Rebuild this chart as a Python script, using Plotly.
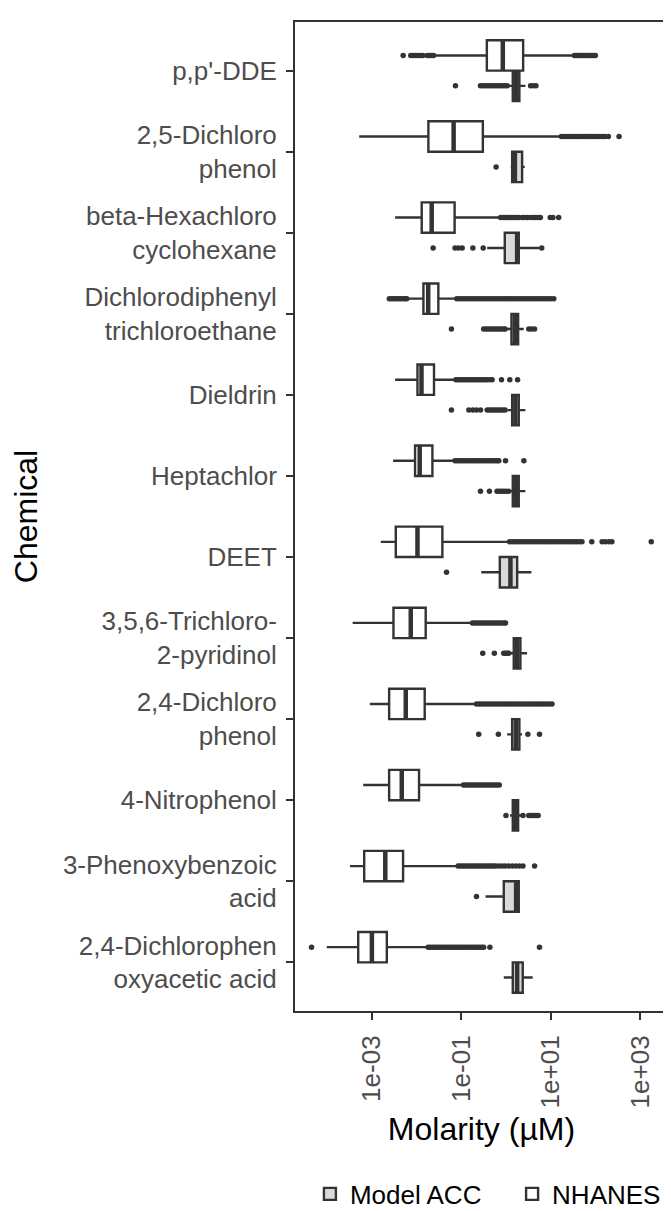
import numpy as np
import plotly.graph_objects as go

chemicals = ["p,p'-DDE", "2,5-Dichloro<br>phenol", "beta-Hexachloro<br>cyclohexane",
             "Dichlorodiphenyl<br>trichloroethane", "Dieldrin", "Heptachlor", "DEET",
             "3,5,6-Trichloro-<br>2-pyridinol", "2,4-Dichloro<br>phenol", "4-Nitrophenol",
             "3-Phenoxybenzoic<br>acid", "2,4-Dichlorophen<br>oxyacetic acid"]

# all values are log10(molarity in uM)
nh_lower = [-1.573, -3.283, -2.48, -2.204, -2.48, -2.525, -2.80, -3.43, -3.045, -3.194, -3.49, -4.01]
nh_q1 = [-0.428, -1.736, -1.885, -1.847, -1.98, -2.034, -2.465, -2.517, -2.614, -2.614, -3.172, -3.306]
nh_median = [-0.071, -1.171, -1.662, -1.74, -1.89, -1.93, -1.98, -2.13, -2.242, -2.331, -2.70, -3.0]
nh_q3 = [0.384, -0.517, -1.149, -1.513, -1.61, -1.646, -1.423, -1.796, -1.818, -1.945, -2.302, -2.666]
nh_upper = [1.50, 1.216, -0.145, -1.127, -1.142, -1.164, 0.062, -0.777, -0.68, -0.977, -1.089, -1.758]

acc_lower = [0.07, 0.107, -0.42, -0.01, 0.03, 0.09, -0.553, 0.09, 0.026, 0.09, -0.457, -0.049]
acc_q1 = [0.152, 0.138, -0.027, 0.123, 0.138, 0.152, -0.138, 0.174, 0.138, 0.152, -0.049, 0.152]
acc_median = [0.23, 0.20, 0.25, 0.20, 0.21, 0.22, 0.10, 0.25, 0.22, 0.21, 0.227, 0.25]
acc_q3 = [0.30, 0.361, 0.286, 0.272, 0.286, 0.286, 0.25, 0.323, 0.30, 0.272, 0.286, 0.375]
acc_upper = [0.435, 0.42, 0.74, 0.397, 0.435, 0.435, 0.569, 0.472, 0.36, 0.36, 0.30, 0.598]

nh_outliers = [
    [-2.30, -2.13, -2.08, -2.02, -1.97, -1.91, -1.86, -1.76, -1.71, -1.66, -1.62,
     1.53, 1.57, 1.61, 1.65, 1.69, 1.73, 1.77, 1.81, 1.85, 1.89, 1.93, 1.97, 2.00],
    [1.24, 1.30, 1.35, 1.41, 1.46, 1.52, 1.58, 1.63, 1.69, 1.75, 1.80, 1.86, 1.92, 1.97,
     2.03, 2.09, 2.15, 2.21, 2.29, 2.53],
    [-0.12, -0.07, -0.02, 0.03, 0.08, 0.13, 0.18, 0.23, 0.28, 0.36, 0.42, 0.48, 0.55, 0.60,
     0.66, 0.72, 0.77, 0.99, 1.05, 1.18],
    [-2.61, -2.56, -2.51, -2.46, -2.41, -2.36, -2.31, -2.26, -2.22,
     -1.10, -1.04, -0.98, -0.92, -0.86, -0.80, -0.74, -0.68, -0.62, -0.56, -0.50, -0.44,
     -0.38, -0.32, -0.26, -0.20, -0.14, -0.08, -0.02, 0.04, 0.10, 0.16, 0.22, 0.28, 0.34,
     0.40, 0.46, 0.52, 0.58, 0.64, 0.70, 0.76, 0.82, 0.88, 0.94, 1.00, 1.07],
    [-1.12, -1.07, -1.02, -0.97, -0.92, -0.87, -0.82, -0.77, -0.72, -0.67, -0.62, -0.57,
     -0.52, -0.47, -0.42, -0.36, -0.31, -0.10, 0.085, 0.26],
    [-1.14, -1.09, -1.04, -0.99, -0.94, -0.89, -0.84, -0.79, -0.74, -0.69, -0.64, -0.59,
     -0.54, -0.49, -0.44, -0.39, -0.34, -0.29, -0.24, -0.20, -0.16, -0.01, 0.40],
    [0.08, 0.14, 0.20, 0.26, 0.32, 0.38, 0.44, 0.50, 0.56, 0.62, 0.68, 0.74, 0.80, 0.86,
     0.92, 0.98, 1.04, 1.10, 1.16, 1.22, 1.28, 1.34, 1.40, 1.46, 1.52, 1.58, 1.64, 1.70,
     1.92, 2.15, 2.22, 2.30, 2.37, 3.25],
    [-0.75, -0.70, -0.65, -0.60, -0.55, -0.50, -0.45, -0.40, -0.35, -0.30, -0.25, -0.20,
     -0.15, -0.10, -0.05, -0.01],
    [-0.66, -0.60, -0.54, -0.48, -0.42, -0.36, -0.30, -0.24, -0.18, -0.12, -0.06, 0.00,
     0.06, 0.12, 0.18, 0.24, 0.30, 0.36, 0.42, 0.48, 0.54, 0.60, 0.66, 0.72, 0.78, 0.84,
     0.90, 0.96, 1.03],
    [-0.95, -0.90, -0.85, -0.80, -0.75, -0.70, -0.65, -0.60, -0.55, -0.50, -0.45, -0.40,
     -0.35, -0.30, -0.25, -0.20, -0.15],
    [-1.07, -1.02, -0.97, -0.92, -0.87, -0.82, -0.77, -0.72, -0.67, -0.62, -0.57, -0.52,
     -0.47, -0.42, -0.37, -0.32, -0.27, -0.23, -0.16, -0.09, -0.02, 0.06, 0.14, 0.22,
     0.30, 0.38, 0.64],
    [-4.35, -1.74, -1.69, -1.64, -1.59, -1.54, -1.49, -1.44, -1.39, -1.34, -1.29, -1.24,
     -1.19, -1.14, -1.09, -1.04, -0.99, -0.94, -0.89, -0.84, -0.79, -0.74, -0.69, -0.64,
     -0.59, -0.54, -0.50, -0.36, 0.75],
]

acc_outliers = [
    [-1.13, -0.57, -0.52, -0.47, -0.42, -0.37, -0.32, -0.27, -0.22, -0.17, -0.12, -0.07,
     -0.02, 0.03, 0.55, 0.61, 0.67],
    [-0.22],
    [-1.63, -1.14, -1.06, -0.98, -0.74, -0.51, 0.80],
    [-1.22, -0.50, -0.45, -0.40, -0.35, -0.30, -0.25, -0.20, -0.15, -0.10, -0.05, -0.02,
     0.51, 0.57, 0.64],
    [-1.22, -0.83, -0.74, -0.66, -0.57, -0.42, -0.37, -0.32, -0.27, -0.22, -0.17, -0.12,
     -0.07, -0.02],
    [-0.57, -0.37, -0.20, -0.15, -0.10, -0.05, 0.00, 0.06],
    [-1.33],
    [-0.52, -0.26, -0.05, -0.01, 0.03, 0.06],
    [-0.61, -0.17, 0.49, 0.75],
    [0.00, 0.38, 0.51, 0.56, 0.62, 0.67, 0.72],
    [-0.66],
    [],
]

tick_vals = [1e-3, 1e-1, 1e1, 1e3]
tick_text = ["1e-03", "1e-01", "1e+01", "1e+03"]

DARK = "#333333"
BOX_W = 0.375
FONT = "Liberation Sans, Arial, sans-serif"

idx = np.arange(len(chemicals))
pos_nh = idx - BOX_W / 2
pos_acc = idx + BOX_W / 2


def p10(a):
    return np.power(10.0, np.asarray(a, dtype=float))


fig = go.Figure()


def add_group(name, legend_id, pos, lo, q1, med, q3, hi, outl, fill):
    fig.add_trace(go.Box(
        name=name, legend=legend_id, orientation="h", y=pos,
        lowerfence=p10(lo), q1=p10(q1), median=p10(med), q3=p10(q3), upperfence=p10(hi),
        width=BOX_W, whiskerwidth=0, boxpoints=False,
        fillcolor=fill, line=dict(color=DARK, width=2.4),
        showlegend=True, hoverinfo="skip"))
    # thicker median lines
    mx, my = [], []
    for p, m in zip(pos, med):
        mx += [10 ** m, 10 ** m, None]
        my += [p - BOX_W / 2, p + BOX_W / 2, None]
    fig.add_trace(go.Scatter(x=mx, y=my, mode="lines", line=dict(color=DARK, width=4.5),
                             showlegend=False, hoverinfo="skip"))
    ox, oy = [], []
    for p, vals in zip(pos, outl):
        ox += list(p10(vals))
        oy += [p] * len(vals)
    fig.add_trace(go.Scatter(x=ox, y=oy, mode="markers",
                             marker=dict(color=DARK, size=5.5, line=dict(width=0)),
                             showlegend=False, hoverinfo="skip"))


add_group("Model ACC", "legend", pos_acc, acc_lower, acc_q1, acc_median, acc_q3, acc_upper,
          acc_outliers, "#D9D9D9")
add_group("NHANES", "legend2", pos_nh, nh_lower, nh_q1, nh_median, nh_q3, nh_upper,
          nh_outliers, "white")

legend_style = dict(orientation="h", yanchor="middle", y=-0.185, xanchor="left",
                    font=dict(size=26, color="black", family=FONT),
                    bgcolor="rgba(0,0,0,0)", itemwidth=30)

fig.update_layout(
    width=671, height=1211,
    margin=dict(l=287, r=11, t=14, b=208, autoexpand=False),
    paper_bgcolor="white", plot_bgcolor="white",
    boxmode="overlay",
    font=dict(family=FONT, color="black"),
    xaxis=dict(
        type="log", range=[-4.72, 3.625], automargin=False,
        tickvals=tick_vals, ticktext=tick_text, tickangle=-90,
        ticks="outside", ticklen=7, tickwidth=2, tickcolor=DARK, ticklabelstandoff=5,
        tickfont=dict(size=26, color="#4D4D4D", family=FONT),
        showline=True, mirror=True, linecolor=DARK, linewidth=2,
        showgrid=False, zeroline=False,
        title=dict(text="Molarity (µM)", font=dict(size=32, color="black", family=FONT),
                   standoff=10),
    ),
    yaxis=dict(
        range=[len(chemicals) - 0.4, -0.6], automargin=False,
        tickvals=idx, ticktext=chemicals,
        ticks="outside", ticklen=7, tickwidth=2, tickcolor=DARK, ticklabelstandoff=4,
        tickfont=dict(size=26, color="#4D4D4D", family=FONT),
        showline=True, mirror=True, linecolor=DARK, linewidth=2,
        showgrid=False, zeroline=False,
        title=dict(text="Chemical", font=dict(size=32, color="black", family=FONT),
                   standoff=18),
    ),
    legend=dict(x=0.04, **legend_style),
    legend2=dict(x=0.582, **legend_style),
)

fig.write_html("out.html")
